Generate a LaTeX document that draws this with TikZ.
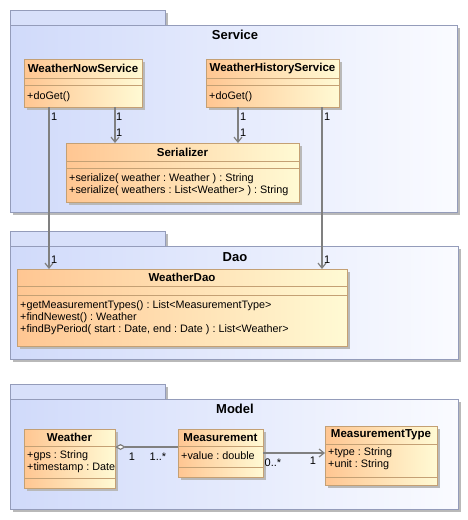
\documentclass[tikz,border=0pt]{standalone}
\usepackage{fontspec}
\setmainfont{Liberation Sans}
\usetikzlibrary{arrows.meta,shadows}
\frenchspacing
\definecolor{pkgL}{RGB}{208,218,250}
\definecolor{pkgR}{RGB}{250,251,255}
\definecolor{pkgT}{RGB}{216,224,250}
\definecolor{pkgB}{RGB}{148,156,186}
\definecolor{clsL}{RGB}{255,198,146}
\definecolor{clsR}{RGB}{255,250,212}
\definecolor{clsB}{RGB}{196,160,116}
\definecolor{shd}{RGB}{185,185,185}
\definecolor{conn}{RGB}{128,128,128}
\newcommand\umlpkg[5]{%
  \fill[shd] (#1+3,#2+3) rectangle (168,#3+3);
  \fill[shd] (#1+3,#3+3) rectangle (#4+3,#5+3);
  \path[pkgtab] (#1,#2) rectangle (165,#3);
  \path[pkgbody] (#1,#3) rectangle (#4,#5);
}
\begin{document}
\begin{tikzpicture}[x=1pt,y=-1pt,
  cls/.style={draw=clsB, line width=1pt, left color=clsL, right color=clsR,
    rectangle, inner sep=0pt, outer sep=0pt, anchor=north west,
    drop shadow={shadow xshift=2.5pt, shadow yshift=-2.5pt, fill=shd, opacity=1}},
  sep/.style={draw=clsB, line width=1pt},
  ttl/.style={font=\fontsize{11.5}{13}\selectfont\bfseries, inner sep=0pt},
  mem/.style={font=\fontsize{10.8}{13}\selectfont, inner sep=0pt, anchor=west},
  pkgtitle/.style={font=\fontsize{13}{15}\selectfont\bfseries, inner sep=0pt},
  pkgbody/.style={draw=pkgB, line width=1pt, left color=pkgL, right color=pkgR},
  pkgtab/.style={draw=pkgB, line width=1pt, fill=pkgT},
  link/.style={draw=conn, line width=1.2pt},
  nav/.style={link, -{Straight Barb[length=5pt,width=8pt]}},
  mult/.style={font=\fontsize{11}{12}\selectfont, inner sep=0pt},
]
\useasboundingbox (0,0) rectangle (468,520);
\fill[white] (0,0) rectangle (468,520);

% ---------------- packages
\umlpkg{10}{10}{25}{457}{212}
\node[pkgtitle] (tService) at (235,35) {Service};
\umlpkg{10}{231}{246}{458}{359}
\node[pkgtitle] (tDao) at (235,257) {Dao};
\umlpkg{10}{384}{399}{458}{509}
\node[pkgtitle] (tModel) at (235,409) {Model};

% ---------------- Service classes
\node[cls, minimum width=118pt, minimum height=48pt] (wns) at (24,59) {};
\draw[sep] (24,78) -- (142,78);
\draw[sep] (24,85) -- (142,85);
\node[ttl] (wnsN) at (83,68.5) {WeatherNowService};
\node[mem] (wnsO) at (27,96.5) {+doGet()};

\node[cls, minimum width=133pt, minimum height=48pt] (whs) at (206,59) {};
\draw[sep] (206,78) -- (339,78);
\draw[sep] (206,85) -- (339,85);
\node[ttl] (whsN) at (272.5,68.5) {WeatherHistoryService};
\node[mem] (whsO) at (209,96.5) {+doGet()};

\node[cls, minimum width=233pt, minimum height=59pt] (ser) at (66,143) {};
\draw[sep] (66,161) -- (299,161);
\draw[sep] (66,168) -- (299,168);
\node[ttl] (serN) at (182.5,152) {Serializer};
\node[mem] (serO1) at (69,179) {+serialize( weather : Weather ) : String};
\node[mem] (serO2) at (69,191) {+serialize( weathers : List<Weather> ) : String};

% ---------------- Dao class
\node[cls, minimum width=330pt, minimum height=77pt] (dao) at (17,269) {};
\draw[sep] (17,286) -- (347,286);
\draw[sep] (17,295) -- (347,295);
\node[ttl] (daoN) at (182,277.5) {WeatherDao};
\node[mem] (daoO1) at (20,306) {+getMeasurementTypes() : List<MeasurementType>};
\node[mem] (daoO2) at (20,318) {+findNewest() : Weather};
\node[mem] (daoO3) at (20,329.5) {+findByPeriod( start : Date, end : Date ) : List<Weather>};

% ---------------- Model classes
\node[cls, minimum width=91pt, minimum height=59pt] (wea) at (24,429) {};
\draw[sep] (24,446) -- (115,446);
\draw[sep] (24,478) -- (115,478);
\node[ttl] (weaN) at (69.5,437.5) {Weather};
\node[mem] (weaA1) at (27,456) {+gps : String};
\node[mem] (weaA2) at (27,468) {+timestamp : Date};

\node[cls, minimum width=85pt, minimum height=48pt] (mea) at (178,429) {};
\draw[sep] (178,446) -- (263,446);
\draw[sep] (178,467) -- (263,467);
\node[ttl] (meaN) at (220.5,437.5) {Measurement};
\node[mem] (meaA1) at (181,456) {+value : double};

\node[cls, minimum width=112pt, minimum height=59pt] (mty) at (325,426) {};
\draw[sep] (325,444) -- (437,444);
\draw[sep] (325,477) -- (437,477);
\node[ttl] (mtyN) at (381,435) {MeasurementType};
\node[mem] (mtyA1) at (328,453) {+type : String};
\node[mem] (mtyA2) at (328,465) {+unit : String};

% ---------------- connectors
\draw[nav] ([xshift=25pt]wns.south west) -- ([xshift=32pt]dao.north west);
\draw[nav] ([xshift=91pt]wns.south west) -- ([xshift=49pt]ser.north west);
\draw[nav] ([xshift=32pt]whs.south west) -- ([xshift=172pt]ser.north west);
\draw[nav] ([xshift=116pt]whs.south west) -- ([xshift=305pt]dao.north west);

\draw[link, {Diamond[length=11pt,width=6pt,fill=white]}-]
  ([yshift=-18pt]wea.north east) -- ([yshift=-18pt]mea.north west);
\draw[nav] ([yshift=-24pt]mea.north east) -- ([yshift=-27pt]mty.north west);

% ---------------- multiplicities
\node[mult, anchor=west] (m1) at (51,117) {1};
\node[mult, anchor=west] (m2) at (51,260) {1};
\node[mult, anchor=west] (m3) at (116,117) {1};
\node[mult, anchor=west] (m4) at (116,133) {1};
\node[mult, anchor=west] (m5) at (240,117) {1};
\node[mult, anchor=west] (m6) at (240,133) {1};
\node[mult, anchor=west] (m7) at (324,117) {1};
\node[mult, anchor=west] (m8) at (324,260) {1};
\node[mult] (m9) at (132,457) {1};
\node[mult] (m10) at (158,457) {1..*};
\node[mult] (m11) at (273,463) {0..*};
\node[mult] (m12) at (313,461) {1};
\end{tikzpicture}
\end{document}
